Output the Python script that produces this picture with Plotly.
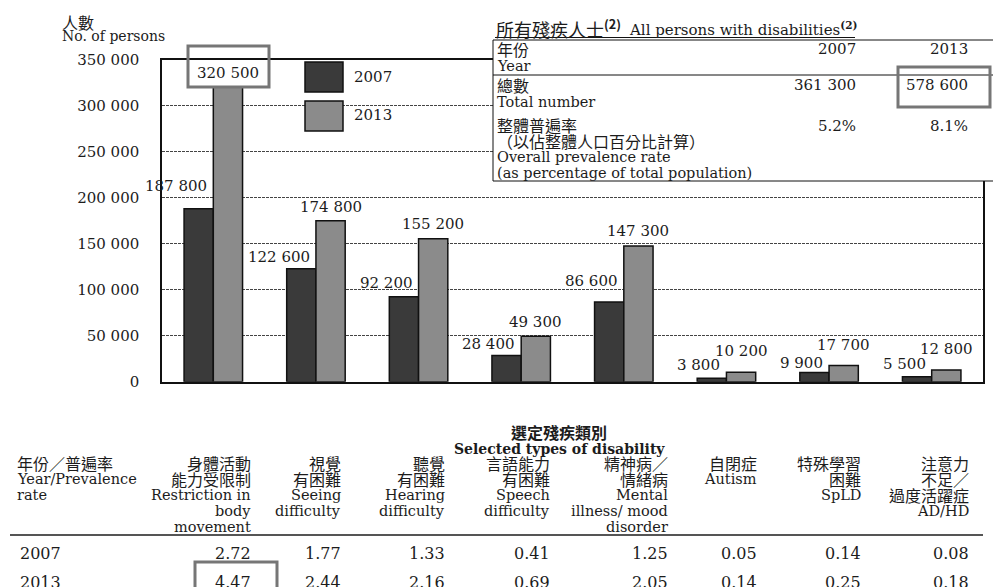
import plotly.graph_objects as go

# ---- data -------------------------------------------------------------
categories = [
    "Restriction in body movement", "Seeing difficulty", "Hearing difficulty",
    "Speech difficulty", "Mental illness/ mood disorder", "Autism", "SpLD", "AD/HD",
]
years = ["2007", "2013"]
persons_2007 = [187800, 122600, 92200, 28400, 86600, 3800, 9900, 5500]
persons_2013 = [320500, 174800, 155200, 49300, 147300, 10200, 17700, 12800]

rate_2007 = [2.72, 1.77, 1.33, 0.41, 1.25, 0.05, 0.14, 0.08]
rate_2013 = [4.47, 2.44, 2.16, 0.69, 2.05, 0.14, 0.25, 0.18]

total_persons = [361300, 578600]
overall_rate = [5.2, 8.1]

y_ticks = [0, 50000, 100000, 150000, 200000, 250000, 300000, 350000]

column_heads = [
    ["年份／普遍率", "Year/Prevalence", "rate"],
    ["身體活動", "能力受限制", "Restriction in", "body", "movement"],
    ["視覺", "有困難", "Seeing", "difficulty"],
    ["聽覺", "有困難", "Hearing", "difficulty"],
    ["言語能力", "有困難", "Speech", "difficulty"],
    ["精神病／", "情緒病", "Mental", "illness/ mood", "disorder"],
    ["自閉症", "Autism"],
    ["特殊學習", "困難", "SpLD"],
    ["注意力", "不足／", "過度活躍症", "AD/HD"],
]

# ---- styling ------------------------------------------------------------
W, H = 993, 587
SERIF = "DejaVu Serif, Noto Sans CJK TC, serif"
CJK = "Noto Sans CJK TC, DejaVu Serif, sans-serif"
INK = "#1c1c1c"
DARK = "#3a3a3a"
LIGHT = "#8b8b8b"
HIGHLIGHT = "#767676"

# extra lift (px) of value labels above their bars
lift_2007 = [23, 12, 14, 12, 21, 13, 10, 13]
lift_2013 = [14, 14, 15, 14, 15, 21, 20, 21]

PLOT_L, PLOT_R, PLOT_T, PLOT_B = 162, 983, 59.5, 381.7


def fmt(v):
    return f"{v:,}".replace(",", " ")


def px(x):
    return x / W


def py(y):
    return 1 - y / H


def is_cjk(s):
    return any(ord(c) > 0x2E80 for c in s)


annotations = []
shapes = []


def note(text, x, y, size=14, anchor="left", bold=False, family=None):
    fam = family or (CJK if is_cjk(text) else SERIF)
    annotations.append(dict(
        text=f"<b>{text}</b>" if bold else text,
        x=px(x), y=py(y), xref="paper", yref="paper",
        xanchor=anchor, yanchor="middle", showarrow=False,
        font=dict(family=fam, size=size, color=INK),
    ))


def rect(x0, y0, x1, y1, color="#000", width=1, fill="rgba(0,0,0,0)"):
    shapes.append(dict(
        type="rect", xref="paper", yref="paper",
        x0=px(x0), x1=px(x1), y0=py(y1), y1=py(y0),
        line=dict(color=color, width=width), fillcolor=fill, layer="above",
    ))


def hline(x0, x1, y, color="#000", width=1):
    shapes.append(dict(
        type="line", xref="paper", yref="paper",
        x0=px(x0), x1=px(x1), y0=py(y), y1=py(y),
        line=dict(color=color, width=width), layer="above",
    ))


# ---- bars ---------------------------------------------------------------
fig = go.Figure()
fig.add_trace(go.Bar(
    name=years[0], x=categories, y=persons_2007,
    marker=dict(color=DARK, line=dict(color="#111", width=1.5)),
))
fig.add_trace(go.Bar(
    name=years[1], x=categories, y=persons_2013,
    marker=dict(color=LIGHT, line=dict(color="#111", width=1.5)),
))

bar_gap = 0.43
slot = (PLOT_R - PLOT_L) / len(categories)
half_bar = slot * (1 - bar_gap) / 4

for i, cat in enumerate(categories):
    annotations.append(dict(
        text=fmt(persons_2007[i]), x=cat, y=persons_2007[i], xref="x", yref="y",
        xanchor="right", yanchor="middle", xshift=-4, yshift=lift_2007[i],
        showarrow=False, font=dict(family=SERIF, size=15, color=INK),
    ))
    annotations.append(dict(
        text=fmt(persons_2013[i]), x=cat, y=persons_2013[i], xref="x", yref="y",
        xanchor="center", yanchor="middle", xshift=half_bar, yshift=lift_2013[i],
        showarrow=False, font=dict(family=SERIF, size=15, color=INK),
    ))

# ---- axis title ---------------------------------------------------------
note("人數", 60, 22, size=16)
note("No. of persons", 60, 36, size=14)

# ---- legend -------------------------------------------------------------
rect(305, 62, 343, 92, color="#111", width=1.5, fill=DARK)
rect(305, 101, 343, 131, color="#111", width=1.5, fill=LIGHT)
note(years[0], 352, 77, size=15)
note(years[1], 352, 115, size=15)

# ---- summary table (all persons with disabilities) ----------------------
rect(493, 40, 1000, 181, color="#111", width=1, fill="white")
hline(493, 1000, 75, color="#111", width=1)
annotations.append(dict(
    text="所有殘疾人士<sup><b>(2)</b></sup>", x=px(494), y=py(28.5),
    xref="paper", yref="paper", xanchor="left", yanchor="middle", showarrow=False,
    font=dict(family=CJK, size=18, color=INK),
))
annotations.append(dict(
    text="All persons with disabilities<sup><b>(2)</b></sup>", x=px(627), y=py(29),
    xref="paper", yref="paper", xanchor="left", yanchor="middle", showarrow=False,
    font=dict(family=SERIF, size=15, color=INK),
))
hline(495, 855, 37.5, color="#111", width=1)

note("年份", 495, 49, size=16)
note("Year", 495, 66, size=14.5)
note("總數", 495, 85, size=16)
note("Total number", 495, 102, size=14.5)
note("整體普遍率", 495, 125, size=16)
note("（以佔整體人口百分比計算）", 495, 141, size=16)
note("Overall prevalence rate", 495, 157, size=14.5)
note("(as percentage of total population)", 495, 173, size=14.5)

for x_right, yr, tot, rt in zip([858, 970], years, total_persons, overall_rate):
    note(yr, x_right, 49, size=15, anchor="right")
    note(fmt(tot), x_right, 85, size=15, anchor="right")
    note(f"{rt:.1f}%", x_right, 126, size=15, anchor="right")

# highlight frames
rect(898, 67, 990, 107, color=HIGHLIGHT, width=3)
rect(188, 46, 269, 87, color=HIGHLIGHT, width=3)

# ---- prevalence table below the chart -----------------------------------
note("選定殘疾類別", 559, 432, size=16, anchor="center", bold=True)
note("Selected types of disability", 559, 448.5, size=14, anchor="center", bold=True)

col_right = [None, 253, 343, 447, 552, 670, 759, 863, 971]
for c, lines in enumerate(column_heads):
    for k, line in enumerate(lines):
        y = 463 + 16 * k
        size = 16 if is_cjk(line) else 14.5
        if col_right[c] is None:
            note(line, 15, y, size=size)
        else:
            note(line, col_right[c], y, size=size, anchor="right")

hline(10, 983, 535, color="#555", width=2.2)

note(years[0], 18, 553.5, size=16)
note(years[1], 18, 582, size=16)
for c in range(len(categories)):
    note(f"{rate_2007[c]:.2f}", col_right[c + 1], 553.5, size=16, anchor="right")
    note(f"{rate_2013[c]:.2f}", col_right[c + 1], 582, size=16, anchor="right")

rect(195, 562, 277, 600, color=HIGHLIGHT, width=3)

# ---- layout -------------------------------------------------------------
fig.update_layout(
    width=W, height=H,
    margin=dict(l=0, r=0, t=0, b=0, autoexpand=False),
    paper_bgcolor="white", plot_bgcolor="white",
    barmode="group", bargap=bar_gap, bargroupgap=0,
    showlegend=False,
    xaxis=dict(
        domain=[px(PLOT_L), px(PLOT_R)],
        range=[-0.5, len(categories) - 0.5],
        showticklabels=False, ticks="",
        showline=True, linecolor="#111", linewidth=1.5, mirror=True,
        showgrid=False,
    ),
    yaxis=dict(
        domain=[py(PLOT_B), py(PLOT_T)],
        range=[0, 350000],
        tickvals=y_ticks, ticktext=[fmt(v) for v in y_ticks],
        tickfont=dict(family=SERIF, size=15, color=INK),
        ticks="", ticklabelstandoff=18,
        showline=True, linecolor="#111", linewidth=1.5, mirror=True,
        showgrid=True, gridcolor="#444", gridwidth=1, griddash="3px,1px",
        zeroline=False,
    ),
    annotations=annotations,
    shapes=shapes,
)

fig.write_html("out.html")
